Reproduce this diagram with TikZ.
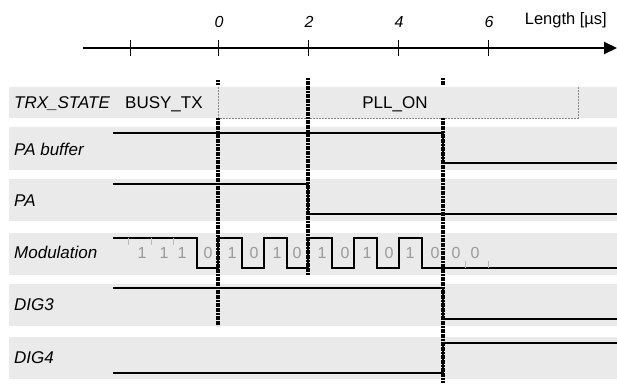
\documentclass[tikz,border=0pt]{standalone}
\usepackage{fontspec}
\setmainfont{Liberation Sans}
\usetikzlibrary{arrows.meta}
\definecolor{band}{HTML}{EAEAEA}
\definecolor{digit}{HTML}{9A9A9A}
\definecolor{boxedge}{HTML}{8A8A8A}
\tikzset{
  rowlabel/.style={inner sep=0pt, font=\fontsize{17}{19}\selectfont\itshape},
  statetext/.style={inner sep=0pt, font=\fontsize{17}{19}\selectfont},
  ticklabel/.style={inner sep=0pt, font=\fontsize{16}{18}\selectfont\itshape},
  bit/.style={inner sep=0pt, text=digit, font=\fontsize{16}{18}\selectfont},
  sig/.style={line width=1.3pt, line join=miter},
  marker/.style={line width=3.2pt, dash pattern=on 2pt off 0.6pt},
  bittick/.style={draw=digit!70, line width=0.6pt},
  pllbox/.style={draw=boxedge, line width=0.6pt, dash pattern=on 2pt off 1pt},
}
\begin{document}
\begin{tikzpicture}[x=1pt, y=-1pt]
\useasboundingbox (0,0) rectangle (617,386);
% bands
\fill[band] (9,87) rectangle (617,118);
\fill[band] (9,127) rectangle (617,170);
\fill[band] (9,179) rectangle (617,221);
\fill[band] (9,233) rectangle (617,275);
\fill[band] (9,284) rectangle (617,326);
\fill[band] (9,337) rectangle (617,379);
% PLL_ON box
\draw[pllbox] (218,87) -- (218,118) -- (578,118) -- (578,87);
% axis
\coordinate (axs) at (83,48);
\coordinate (axe) at (617,48);
\draw[line width=2pt, -{Triangle[length=13pt,width=12pt]}] (axs) -- (axe);
\foreach \x in {130,218,308,398,488} \draw[line width=1pt] (\x,40) -- (\x,56);
\node[ticklabel, anchor=base] (t0) at (219,27) {0};
\node[ticklabel, anchor=base] (t2) at (309,27) {2};
\node[ticklabel, anchor=base] (t4) at (399,27) {4};
\node[ticklabel, anchor=base] (t6) at (489,27) {6};
\node[statetext, anchor=base east, font=\fontsize{16.5}{18}\selectfont] (len) at (607,24) {Length [µs]};
% labels
\node[rowlabel, anchor=base west] (ltrx) at (14,108) {TRX\_STATE};
\node[statetext, anchor=base west] (busy) at (125,108) {BUSY\_TX};
\node[statetext, anchor=base] (pll) at (395,108) {PLL\_ON};
\node[rowlabel, anchor=base west] (lpab) at (14,155) {PA buffer};
\node[rowlabel, anchor=base west] (lpa) at (14,206) {PA};
\node[rowlabel, anchor=base west] (lmod) at (14,258) {Modulation};
\node[rowlabel, anchor=base west] (ld3) at (14,310) {DIG3};
\node[rowlabel, anchor=base west] (ld4) at (14,363) {DIG4};
% signals
\draw[sig] (113,133) -- (443,133) -- (443,163) -- (617,163);
\draw[sig] (113,184) -- (308,184) -- (308,214) -- (617,214);
\draw[sig] (113,238) -- (197,238) -- (197,268) -- (218,268) -- (218,238)
  -- (242,238) -- (242,268) -- (264,268) -- (264,238) -- (287,238) -- (287,268)
  -- (308,268) -- (308,238) -- (332,238) -- (332,268) -- (354,268) -- (354,238)
  -- (377,238) -- (377,268) -- (399,268) -- (399,238) -- (422,238) -- (422,268)
  -- (617,268);
\draw[sig] (113,288) -- (443,288) -- (443,319) -- (617,319);
\draw[sig] (113,373) -- (443,373) -- (443,343) -- (617,343);
% bit ticks
\foreach \x in {128,151,173} \draw[bittick] (\x,238) -- (\x,245);
\foreach \x in {465,488} \draw[bittick] (\x,261) -- (\x,268);
% bits
\foreach \x/\b [count=\i] in {142/1,164/1,182/1,208/0,232/1,254/0,277/1,297/0,322/1,345/0,367/1,389/0,410/1,435/0,456/0,475/0}
  \node[bit, anchor=base] (b\i) at (\x,258) {\b};
% markers
\draw[marker] (218,80) -- (218,85);
\draw[marker] (218,118) -- (218,326);
\draw[marker] (308,78) -- (308,275);
\draw[marker] (443,78) -- (443,85);
\draw[marker] (443,118) -- (443,383);
\end{tikzpicture}
\end{document}
